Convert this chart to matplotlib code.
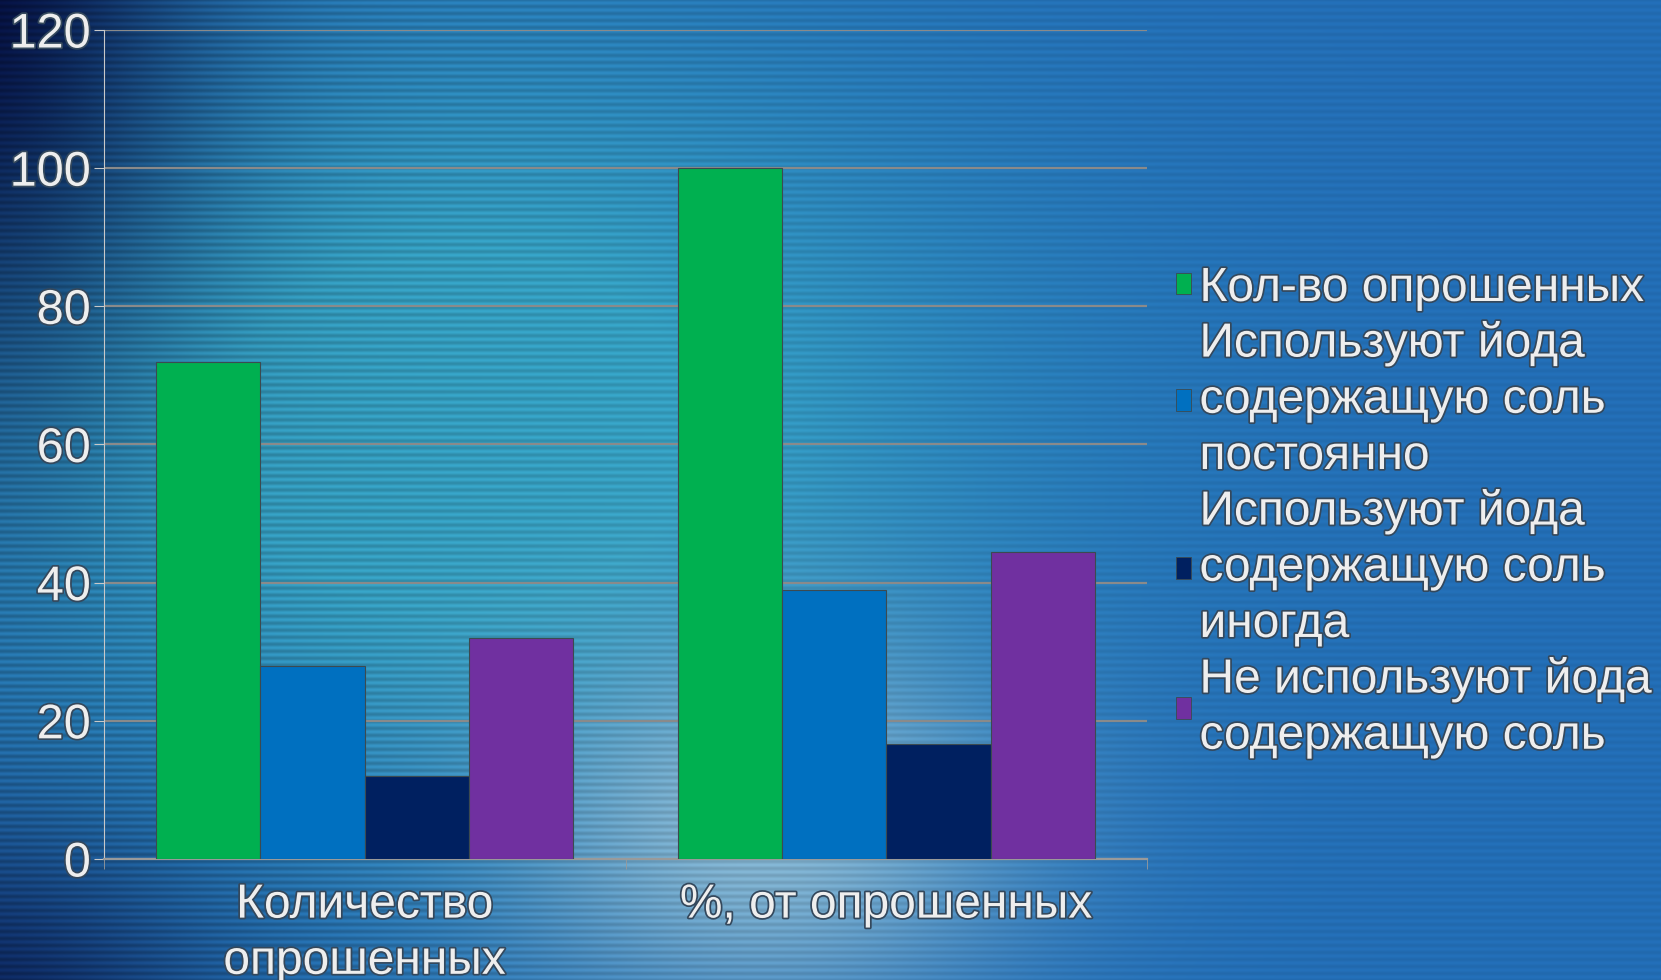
import numpy as np
import matplotlib.pyplot as plt
import matplotlib.patheffects as pe
from matplotlib.patches import Patch

plt.rcParams['font.family'] = ['Liberation Sans', 'DejaVu Sans']

# survey results
categories = ['Количество\nопрошенных', '%, от опрошенных']
series_labels = ['Кол-во опрошенных',
                 'Используют йода\nсодержащую соль\nпостоянно',
                 'Используют йода\nсодержащую соль\nиногда',
                 'Не используют йода\nсодержащую соль']
counts = [72, 28, 12, 32]
percents = [100, 38.9, 16.7, 44.4]
colors = ['#00b050', '#0070c0', '#002060', '#7030a0']

W, H = 1661, 980
fig = plt.figure(figsize=(W / 100, H / 100), dpi=100)

# striped blue backdrop
yy, xx = np.mgrid[0:H, 0:W].astype(float)
def blob(cx, cy, sx, sy):
    return np.exp(-((xx - cx) / sx) ** 2 - ((yy - cy) / sy) ** 2)
def mix(a, c, w):
    return a * (1 - w[..., None]) + np.array(c) * w[..., None]

bg = np.ones((H, W, 3)) * np.array([0.14, 0.44, 0.73])
bg = mix(bg, (0.22, 0.66, 0.80), np.clip(1.25 * blob(460, 430, 500, 380), 0, 1))
bg = mix(bg, (0.58, 0.76, 0.86), 0.9 * blob(760, 830, 250, 190))
bg = mix(bg, (0.02, 0.06, 0.26), blob(-40, -40, 220, 420))
bg = mix(bg, (0.05, 0.15, 0.38), blob(-40, 1020, 240, 190))
stripe = 0.5 + 0.5 * np.cos(2 * np.pi * yy / 7.0)
strength = 0.06 + 0.16 * np.exp(-(xx / 800.0) ** 2)
bg = np.clip(bg * (1 - strength[..., None] * stripe[..., None]), 0, 1)

bax = fig.add_axes([0, 0, 1, 1], zorder=-1)
bax.imshow(bg, aspect='auto', extent=(0, 1, 0, 1))
bax.set_axis_off()

ax = fig.add_axes([104 / W, 121 / H, 1043 / W, 829 / H])
ax.patch.set_alpha(0)

x = np.arange(len(categories))
width = 0.2
offsets = [-0.3, -0.1, 0.1, 0.3]
for i in range(4):
    vals = [counts[i], percents[i]]
    ax.bar(x + offsets[i], vals, width=width, color=colors[i],
           edgecolor='#3c4a50', linewidth=0.8, zorder=3)

ax.set_xlim(-0.5, 1.5)
ax.set_ylim(0, 120)
ax.set_yticks(np.arange(0, 121, 20))
ax.yaxis.grid(True, color='#8a8a8a', linewidth=1.6, zorder=1)
ax.set_axisbelow(True)
for s in ['top', 'right']:
    ax.spines[s].set_visible(False)
ax.spines['left'].set_color('#c8c8c8')
ax.spines['bottom'].set_color('#9a9a9a')
ax.spines['bottom'].set_linewidth(1.6)

txt_fx = [pe.withStroke(linewidth=2.5, foreground='#34485c')]
ax.tick_params(axis='y', direction='out', length=7, color='#c8c8c8',
               labelsize=35, labelcolor='#eeeeee', pad=2.5)
ax.set_xticks(x)
ax.set_xticklabels(categories)
ax.set_xticks([-0.5, 0.5, 1.5], minor=True)
ax.tick_params(axis='x', which='major', length=0, labelsize=34.5,
               labelcolor='#eeeeee', pad=17)
ax.tick_params(axis='x', which='minor', direction='out', length=7, color='#9a9a9a')
for t in ax.get_xticklabels() + ax.get_yticklabels():
    t.set_path_effects(txt_fx)
for t in ax.get_xticklabels():
    t.set_linespacing(1.32)

handles = [Patch(facecolor=c, edgecolor='#3c4a50', linewidth=0.6) for c in colors]
leg = fig.legend(handles, series_labels, loc='upper left',
                 bbox_to_anchor=(1176 / W, 1 - 266 / H), frameon=False,
                 fontsize=34.5, handlelength=0.31, handleheight=0.31,
                 handletextpad=0.18, labelspacing=0.2, borderpad=0,
                 borderaxespad=0)
for t in leg.get_texts():
    t.set_color('#eeeeee')
    t.set_path_effects(txt_fx)
    t.set_linespacing(1.32)

fig.savefig('out.png', dpi=100)
